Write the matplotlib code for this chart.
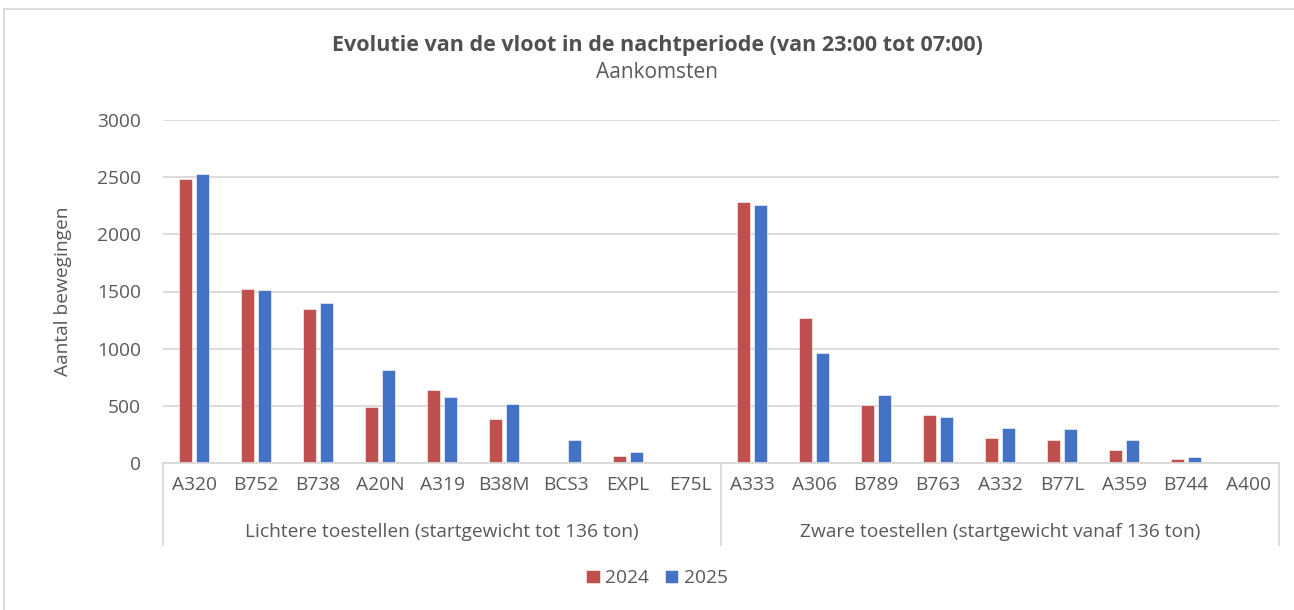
import numpy as np
import matplotlib.pyplot as plt
import matplotlib.transforms as mtransforms

plt.rcParams['font.family'] = ['Open Sans', 'DejaVu Sans']

types = ['A320', 'B752', 'B738', 'A20N', 'A319', 'B38M', 'BCS3', 'EXPL', 'E75L',
         'A333', 'A306', 'B789', 'B763', 'A332', 'B77L', 'A359', 'B744', 'A400']
groups = ['Lichtere toestellen (startgewicht tot 136 ton)',
          'Zware toestellen (startgewicht vanaf 136 ton)']
group_sizes = [9, 9]
v2024 = [2484, 1525, 1347, 487, 642, 385, 0, 61, 0,
         2286, 1266, 504, 420, 222, 198, 111, 38, 5]
v2025 = [2531, 1516, 1403, 811, 574, 519, 198, 99, 0,
         2260, 965, 592, 400, 309, 297, 204, 50, 9]

red = '#C0504D'
blue = '#4472C4'
txt = '#595959'
grid = '#D9D9D9'
fs = 13.8

fig = plt.figure(figsize=(12.94, 6.10), dpi=100)
W, H = 1294, 610
ax = fig.add_axes([163 / W, 1 - 463 / H, (1279 - 163) / W, (463 - 120) / H])

x = np.arange(len(types))
w = 0.21
ax.bar(x - 0.135, v2024, w, color=red, label='2024', edgecolor='white', linewidth=0.4)
ax.bar(x + 0.135, v2025, w, color=blue, label='2025', edgecolor='white', linewidth=0.4)

ax.set_xlim(-0.5, len(types) - 0.5)
ax.set_ylim(0, 3000)
ax.set_yticks(range(0, 3001, 500))
ax.yaxis.grid(True, color=grid, linewidth=1.3)
ax.set_axisbelow(True)
for s in ['top', 'right', 'left']:
    ax.spines[s].set_visible(False)
ax.spines['bottom'].set_color(grid)
ax.spines['bottom'].set_linewidth(1.3)
ax.tick_params(axis='y', length=0, pad=16, labelsize=fs, labelcolor=txt)
ax.tick_params(axis='x', length=0, pad=9, labelsize=fs, labelcolor=txt)
ax.set_xticks(x)
ax.set_xticklabels(types)
ax.set_ylabel('Aantal bewegingen', fontsize=fs, color=txt, labelpad=18)

# group labels and separators under the axis
trans = mtransforms.blended_transform_factory(ax.transData, ax.transAxes)
bottom = -82 / 343
edges = np.concatenate([[0], np.cumsum(group_sizes)]) - 0.5
for e in edges:
    ax.plot([e, e], [0, bottom], transform=trans, color=grid, linewidth=1.3, clip_on=False)
for i, g in enumerate(groups):
    mid = (edges[i] + edges[i + 1]) / 2
    ax.text(mid, -69 / 343, g, transform=trans, ha='center', va='center',
            fontsize=fs, color=txt)

cx = 657 / W
fig.text(cx, 1 - 45 / H, 'Evolutie van de vloot in de nachtperiode (van 23:00 tot 07:00)',
         ha='center', va='center', fontsize=15.5, fontweight='bold', color='#505050')
fig.text(cx, 1 - 73 / H, 'Aankomsten', ha='center', va='center', fontsize=15, color=txt)

fig.legend(loc='center', bbox_to_anchor=(cx, 1 - 578 / H), ncol=2, frameon=False,
           fontsize=fs, labelcolor=txt, handlelength=0.7, handleheight=0.7,
           handletextpad=0.3, columnspacing=0.8)

# chart border (right edge runs off the image)
fig.add_artist(plt.Rectangle((4 / W, -0.1), 1.2, 1.1 - 9 / H, transform=fig.transFigure,
                             fill=False, edgecolor=grid, linewidth=1.3))

fig.savefig('out.png', dpi=100)
